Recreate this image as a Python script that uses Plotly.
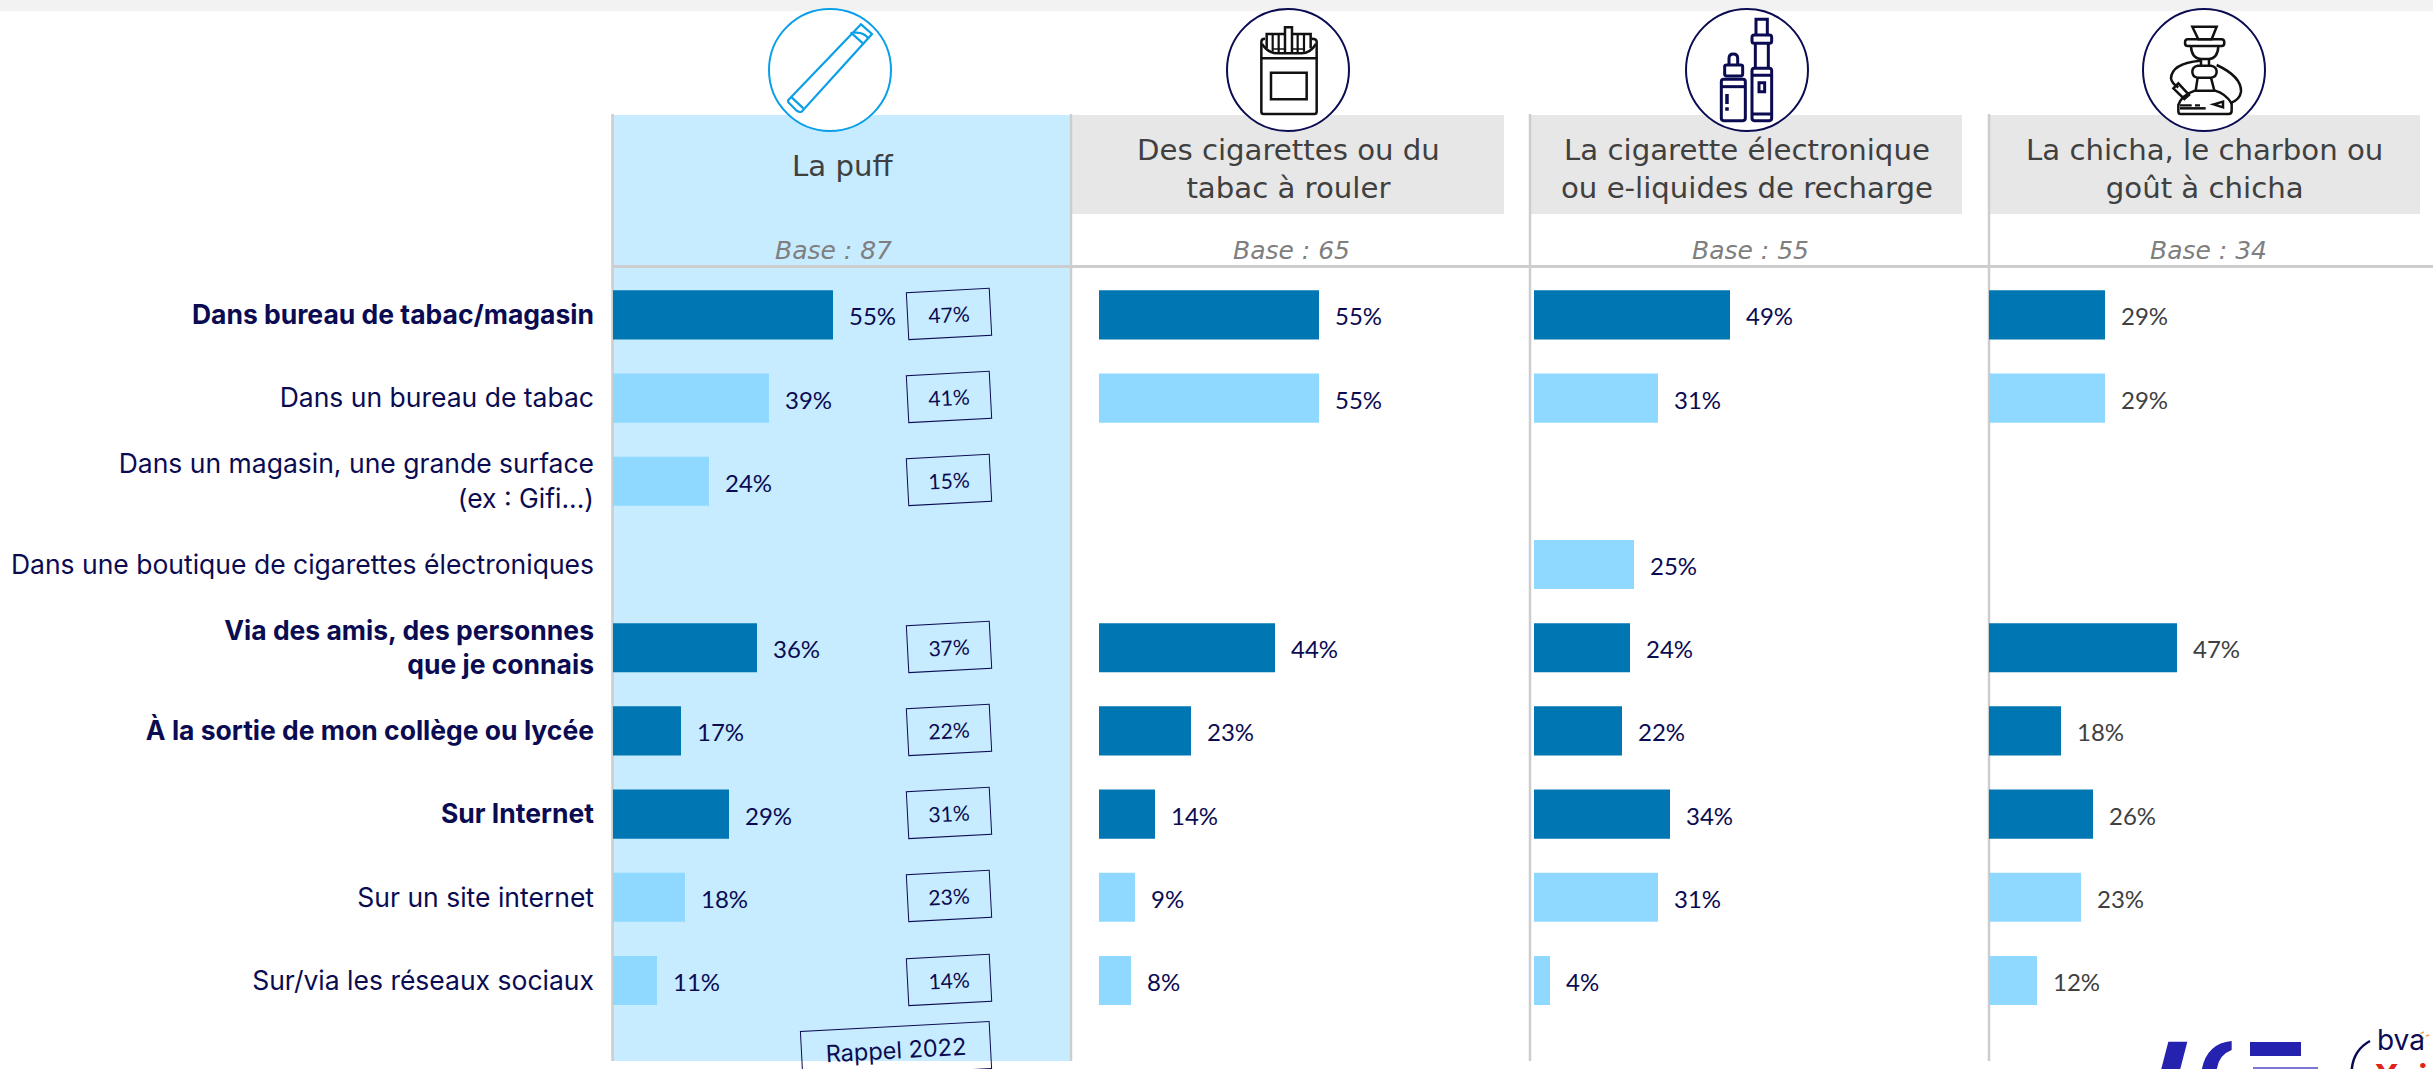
import re
import plotly.graph_objects as go

W, H = 2433, 1069

CATEGORIES = [
    "Dans bureau de tabac/magasin",
    "Dans un bureau de tabac",
    "Dans un magasin, une grande surface<br>(ex : Gifi...)",
    "Dans une boutique de cigarettes électroniques",
    "Via des amis, des personnes<br>que je connais",
    "À la sortie de mon collège ou lycée",
    "Sur Internet",
    "Sur un site internet",
    "Sur/via les réseaux sociaux",
]
MAIN_ROWS = [True, False, False, False, True, True, True, False, False]
PUFF = [55, 39, 24, None, 36, 17, 29, 18, 11]
CIGARETTES = [55, 55, None, None, 44, 23, 14, 9, 8]
ECIG = [49, 31, None, 25, 24, 22, 34, 31, 4]
CHICHA = [29, 29, None, None, 47, 18, 26, 23, 12]
RAPPEL_2022 = [47, 41, 15, None, 37, 22, 31, 23, 14]
PRODUCTS = [
    "La puff",
    "Des cigarettes ou du<br>tabac à rouler",
    "La cigarette électronique<br>ou e-liquides de recharge",
    "La chicha, le charbon ou<br>goût à chicha",
]
BASES = ["Base : 87", "Base : 65", "Base : 55", "Base : 34"]

NAVY = "#0b0b52"
DARK = "#0076b3"
LIGHT = "#8fd8ff"
PANEL = "#c7ebff"
GREY = "#e7e7e7"
RULE = "#cdcdcd"
LABEL_FONT = "Inter"
VALUE_FONT = "Lato"
HEAD_FONT = "DejaVu Sans"

px_per_pct = 4.0
row_top, row_step = 273.3, 83.2
axis_x0 = [613, 1099, 1534, 1989]
col_right = [1070, 1530, 1988, 2433]


def X(v):
    return v / W


def Y(v):
    return 1 - v / H


def path(ox, d, scale=1 / 3, oy=0):
    """Icon outlines are noted in a local grid; convert them to paper units."""
    nums = iter(re.findall(r"-?\d+\.?\d*|[A-Za-z]", d))
    out, is_x = [], True
    for tok in nums:
        if tok.isalpha():
            out.append(tok)
            is_x = True
        else:
            v = float(tok) * scale
            out.append(f"{X(ox + v):.5f}" if is_x else f"{Y(oy + v):.5f}")
            is_x = not is_x
    return " ".join(out)


def rect(x0, y0, x1, y1, fill, line=None, lw=0, layer="below"):
    return dict(type="rect", xref="paper", yref="paper", x0=X(x0), x1=X(x1), y0=Y(y0), y1=Y(y1),
                fillcolor=fill, line=dict(color=line or fill, width=lw), layer=layer)


def hv(x0, y0, x1, y1, color=RULE, lw=2.5, layer="below"):
    return dict(type="line", xref="paper", yref="paper", x0=X(x0), x1=X(x1), y0=Y(y0), y1=Y(y1),
                line=dict(color=color, width=lw), layer=layer)


def icon(ox, d, color, lw=2.2, fill="rgba(0,0,0,0)"):
    return dict(type="path", xref="paper", yref="paper", path=path(ox, d),
                line=dict(color=color, width=lw), fillcolor=fill, layer="above")


fig = go.Figure()
series = [PUFF, CIGARETTES, ECIG, CHICHA]
colors = [DARK if m else LIGHT for m in MAIN_ROWS]
annotations = []

for i, values in enumerate(series):
    suffix = "" if i == 0 else str(i + 1)
    fig.add_trace(go.Bar(
        x=values, y=CATEGORIES, orientation="h", marker=dict(color=colors, line=dict(width=0)),
        xaxis="x" + suffix, yaxis="y", width=0.59, showlegend=False, hoverinfo="x+y",
    ))
    right = col_right[i]
    fig.layout["xaxis" + suffix] = dict(
        domain=[X(axis_x0[i]), X(right)], range=[0, (right - axis_x0[i]) / px_per_pct],
        visible=False, anchor="y", fixedrange=True,
    )
    for cat, v in zip(CATEGORIES, values):
        if v is not None:
            annotations.append(dict(
                x=v, y=cat, xref="x" + suffix, yref="y", text=f"{v}%", showarrow=False,
                xanchor="left", yanchor="middle", xshift=14, yshift=-1,
                font=dict(family=VALUE_FONT, size=24, color=NAVY if i < 3 else "#404040"),
            ))

# Rappel 2022 tags
for cat, v in zip(CATEGORIES, RAPPEL_2022):
    if v is not None:
        annotations.append(dict(
            x=X(948.5), y=cat, xref="paper", yref="y", text=f"{v}%", showarrow=False,
            xanchor="center", yanchor="middle",
            textangle=-3, width=82, height=46, bordercolor=NAVY, borderwidth=1, borderpad=0,
            align="center", valign="middle", yshift=1,
            font=dict(family=VALUE_FONT, size=21, color=NAVY),
        ))
annotations.append(dict(
    x=X(896), y=Y(1050), xref="paper", yref="paper", text="Rappel 2022", showarrow=False,
    xanchor="center", yanchor="middle",
    textangle=-3, width=188, height=46, bordercolor=NAVY, borderwidth=1, borderpad=0,
    font=dict(family=LABEL_FONT, size=23.5, color=NAVY),
))

# Column headers
head_cx = [842, 1288, 1747, 2204]
head_cy = [166.5, 168.5, 168.5, 168.5]
base_cx = [833, 1291, 1750, 2208]
for cx, cy, t, bx, b in zip(head_cx, head_cy, PRODUCTS, base_cx, BASES):
    annotations.append(dict(x=X(cx), y=Y(cy), xref="paper", yref="paper", text=t, showarrow=False,
                            xanchor="center", yanchor="middle",
                            font=dict(family=HEAD_FONT, size=29.2, color="#404040")))
    annotations.append(dict(x=X(bx), y=Y(251), xref="paper", yref="paper", text=f"<i>{b}</i>", showarrow=False,
                            xanchor="center", yanchor="middle",
                            font=dict(family=HEAD_FONT, size=25, color="#7f7f7f")))

# Logos text
annotations.append(dict(x=X(2375), y=Y(1040), xref="paper", yref="paper", text="bva", showarrow=False,
                        xanchor="left", yanchor="middle", font=dict(family=LABEL_FONT, size=28, color=NAVY)))
annotations.append(dict(x=X(2372), y=Y(1054), xref="paper", yref="paper", text="<b>Xsight</b>", showarrow=False,
                        xanchor="left", yanchor="top", font=dict(family=LABEL_FONT, size=34, color="#e2231a")))

shapes = [
    rect(0, 0, W, 11, "#f2f2f2"),
    rect(613, 115, 1070, 1061, PANEL),
    rect(1072, 115, 1504, 214, GREY),
    rect(1531, 115, 1962, 214, GREY),
    rect(1989, 115, 2420, 214, GREY),
    hv(612.5, 114, 612.5, 1061),
    hv(1071, 114, 1071, 1061),
    hv(1530, 114, 1530, 1061),
    hv(1989, 114, 1989, 1061),
    hv(612, 266.5, W, 266.5, lw=3),
]

# Icon circles
for cx, col in zip([830, 1288, 1747, 2204], ["#0a9fe8", NAVY, NAVY, NAVY]):
    shapes.append(dict(type="circle", xref="paper", yref="paper", x0=X(cx - 61), x1=X(cx + 61),
                       y0=Y(70 - 61), y1=Y(70 + 61), fillcolor="white",
                       line=dict(color=col, width=2), layer="above"))

BLUE = "#0a9fe8"
# Puff
shapes += [
    icon(760, "M 85 300 L 303 73 L 336 102 L 125 335 Q 118 338 110 332 L 88 310 Q 82 305 85 300 Z", BLUE),
    icon(760, "M 95 292 L 130 325", BLUE),
    icon(760, "M 272 97 L 312 133", BLUE),
    icon(760, "M 282 98 Q 312 95 326 116", BLUE),
]
# Cigarette pack
K = "#111111"
shapes += [
    icon(1220, "M 124 175 L 290 175 L 290 335 Q 290 342 283 342 L 131 342 Q 124 342 124 335 Z", K, 2.5),
    icon(1220, "M 153 218 L 260 218 L 260 298 L 153 298 Z", K, 2.5),
    icon(1220, "M 124 175 L 124 125 Q 124 116 135 116 M 290 175 L 290 125 Q 290 116 275 116", K, 2.5),
    icon(1220, "M 126 132 Q 145 160 172 160 L 245 160 Q 270 160 288 132", K, 2.5),
    icon(1220, "M 140 145 L 140 102 L 195 102 M 216 102 L 272 102 L 272 145", K, 2.5),
    icon(1220, "M 195 158 L 195 82 L 216 82 L 216 158", K, 2.5),
    icon(1220, "M 158 102 L 158 155 M 176 102 L 176 158 M 233 102 L 233 158 M 252 102 L 252 155", K, 2.2),
    icon(1220, "M 160 147 L 195 147 M 216 147 L 250 147", K, 1.5),
]
# E-cigarette and bottle
shapes += [
    icon(1680, "M 228 105 L 228 58 L 262 58 L 262 105", NAVY, 3),
    icon(1680, "M 216 112 Q 216 105 223 105 L 268 105 Q 275 105 275 112 L 275 123 Q 275 130 268 130 L 223 130 Q 216 130 216 123 Z", NAVY, 3),
    icon(1680, "M 226 130 L 226 205 M 265 130 L 265 205", NAVY, 3),
    icon(1680, "M 216 212 Q 216 205 223 205 L 268 205 Q 275 205 275 212 L 275 355 Q 275 362 268 362 L 223 362 Q 216 362 216 355 Z", NAVY, 3),
    icon(1680, "M 216 226 L 275 226 M 216 342 L 275 342", NAVY, 3),
    icon(1680, "M 237 248 L 254 248 L 254 275 L 237 275 Z", NAVY, 3),
    icon(1680, "M 124 245 Q 124 238 131 238 L 189 238 Q 196 238 196 245 L 196 355 Q 196 362 189 362 L 131 362 Q 124 362 124 355 Z", NAVY, 3),
    icon(1680, "M 124 260 L 196 260", NAVY, 3),
    icon(1680, "M 141 282 L 141 312 M 141 322 L 141 332", NAVY, 3.5),
    icon(1680, "M 134 200 Q 134 195 140 195 L 182 195 Q 188 195 188 200 L 188 222 Q 188 228 182 228 L 140 228 Q 134 228 134 222 Z", NAVY, 3),
    icon(1680, "M 147 195 L 147 175 Q 147 162 160 162 Q 173 162 173 175 L 173 195", NAVY, 3),
]
# Hookah
shapes += [
    icon(2135, "M 172 80 L 245 80 L 230 118 L 190 118 Z", K, 2.5),
    icon(2135, "M 158 118 L 260 118 Q 268 118 268 128 Q 268 138 260 138 L 158 138 Q 150 138 150 128 Q 150 118 158 118 Z", K, 2.5),
    icon(2135, "M 168 140 Q 170 175 198 177 L 222 177 Q 248 175 250 140", K, 2.5),
    icon(2135, "M 198 177 L 198 197 M 222 177 L 222 197", K, 2.5),
    icon(2135, "M 188 197 L 228 197 Q 245 200 245 215 Q 245 230 228 233 L 188 233 Q 172 230 172 215 Q 172 200 188 197 Z", K, 2.5),
    icon(2135, "M 188 233 L 182 272 M 228 233 L 238 272", K, 2.5),
    icon(2135, "M 136 342 Q 130 342 130 332 L 130 315 Q 140 285 180 272 L 240 272 Q 270 280 290 310 L 290 332 Q 290 342 280 342 Z", K, 2.5),
    icon(2135, "M 135 325 L 212 325", K, 2.5),
    icon(2135, "M 135 316 L 170 316 M 180 316 L 195 316", K, 2.2),
    icon(2135, "M 236 313 L 264 305 L 264 322 Z", K, 2.5),
    icon(2135, "M 195 182 Q 110 190 108 235 Q 110 250 130 262", K, 2.5),
    icon(2135, "M 115 265 L 130 250 L 162 285 L 148 297 Z", K, 2.5),
    icon(2135, "M 245 195 Q 320 230 318 275 Q 315 300 285 310", K, 2.5),
]
# Logos
LOGO = "#2522b0"
shapes += [
    dict(type="path", xref="paper", yref="paper", layer="above", line=dict(width=0), fillcolor=LOGO,
         path=path(2100, "M 205 185 L 262 185 L 240 270 L 183 270 Z", oy=980)),
    dict(type="path", xref="paper", yref="paper", layer="above", line=dict(width=0), fillcolor=LOGO,
         path=path(2100, "M 395 183 Q 320 190 305 270 L 350 270 Q 355 225 395 210 Z", oy=980)),
    rect(2250, 1042, 2301, 1056, LOGO, layer="above"),
    rect(2253, 1067, 2318, 1069, "#7a78d0", layer="above"),
    dict(type="path", xref="paper", yref="paper", layer="above", line=dict(color=NAVY, width=2.5),
         path=path(2100, "M 810 183 Q 760 210 755 270", oy=980)),
    dict(type="path", xref="paper", yref="paper", layer="above", line=dict(color="#f5a24a", width=1.5),
         path=path(2100, "M 962 160 L 972 156 M 978 168 L 988 165 M 965 172 L 972 176", oy=980)),
]

fig.update_layout(
    width=W, height=H, margin=dict(l=0, r=0, t=0, b=0), paper_bgcolor="white", plot_bgcolor="rgba(0,0,0,0)",
    barmode="overlay", showlegend=False, annotations=annotations, shapes=shapes,
    yaxis=dict(
        domain=[Y(row_top + 9 * row_step), Y(row_top)], range=[8.5, -0.5], type="category",
        categoryorder="array", categoryarray=CATEGORIES, anchor="x", showgrid=False, zeroline=False,
        showline=False, ticks="", ticklabelstandoff=18, fixedrange=True,
        tickmode="array", tickvals=CATEGORIES,
        ticktext=[f"<b>{c}</b>" if m else c for c, m in zip(CATEGORIES, MAIN_ROWS)],
        tickfont=dict(family=LABEL_FONT, size=26.5, color=NAVY),
    ),
)

fig.write_html("out.html", config={"displayModeBar": False},
               post_script="document.body.style.margin='0';document.documentElement.style.overflow='hidden';")
